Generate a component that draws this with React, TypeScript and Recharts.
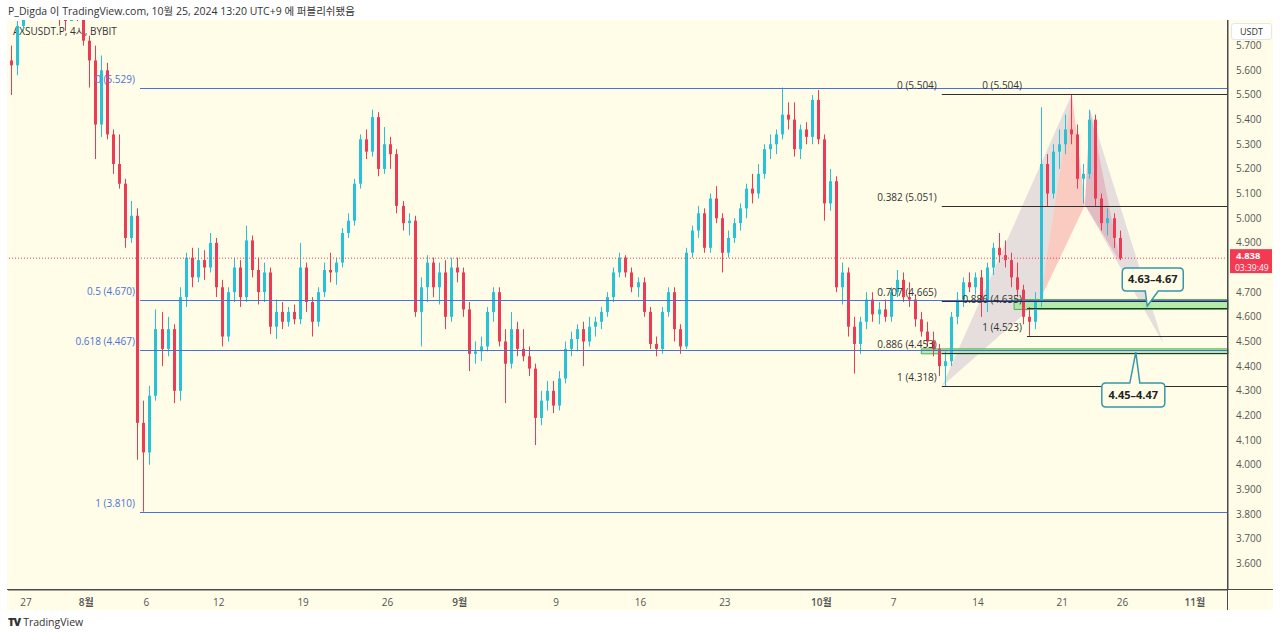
import { Bar, ComposedChart, ReferenceArea, ReferenceDot, ReferenceLine, XAxis, YAxis } from "recharts";

const UP = "#26c2d8";
const DOWN = "#ee3b55";
const FIB_BLUE = "#4a72d6";
const FIB_DARK = "#2e2e2e";
const BG = "#fffde8";
const AXIS = "#4a4a4a";
const FONT = "'Open Sans', 'Noto Sans CJK KR', sans-serif";

// time is in days from Jul 27 00:00 (UTC+9), one candle every 12h
const FIRST_CANDLE_T = -1.25;
const CANDLE_STEP = 0.5;
const T_MIN = -1.49;
const T_MAX = 99.75;
const P_MIN = 3.492;
const P_MAX = 5.804;

// [open, high, low, close]
const julyCandles = [
  [5.64, 5.70, 5.50, 5.62], [5.62, 5.80, 5.58, 5.78], [5.78, 5.95, 5.76, 5.90], [5.90, 6.02, 5.85, 5.96],
  [5.96, 6.05, 5.90, 5.94], [5.94, 6.00, 5.86, 5.90], [5.90, 5.98, 5.84, 5.88], [5.88, 5.95, 5.83, 5.86],
  [5.86, 5.92, 5.78, 5.84], [5.84, 5.90, 5.76, 5.80], [5.80, 5.92, 5.81, 5.88], [5.88, 5.95, 5.80, 5.86],
  [5.86, 5.90, 5.70, 5.72],
];

const augCandles = [
  [5.72, 5.74, 5.53, 5.64], [5.64, 5.70, 5.24, 5.38], [5.38, 5.66, 5.33, 5.60], [5.60, 5.63, 5.32, 5.34],
  [5.34, 5.36, 5.18, 5.22], [5.22, 5.34, 5.12, 5.14], [5.14, 5.16, 4.88, 4.92], [4.92, 5.07, 4.90, 5.01],
  [5.01, 5.04, 4.02, 4.17], [4.17, 4.26, 3.81, 4.05], [4.05, 4.32, 4.00, 4.28], [4.28, 4.63, 4.26, 4.55],
  [4.55, 4.62, 4.40, 4.47], [4.47, 4.60, 4.44, 4.55], [4.55, 4.57, 4.25, 4.30], [4.30, 4.72, 4.26, 4.68],
  [4.68, 4.86, 4.64, 4.84], [4.84, 4.88, 4.72, 4.76], [4.76, 4.88, 4.74, 4.83], [4.83, 4.87, 4.75, 4.80],
  [4.80, 4.94, 4.78, 4.90], [4.90, 4.92, 4.68, 4.72], [4.72, 4.75, 4.48, 4.52], [4.52, 4.72, 4.50, 4.70],
  [4.70, 4.84, 4.66, 4.80], [4.80, 4.83, 4.64, 4.68], [4.68, 4.97, 4.66, 4.91], [4.91, 4.93, 4.76, 4.79],
  [4.79, 4.84, 4.65, 4.70], [4.70, 4.82, 4.66, 4.78], [4.78, 4.80, 4.53, 4.56], [4.56, 4.67, 4.51, 4.62],
  [4.62, 4.66, 4.55, 4.58], [4.58, 4.64, 4.56, 4.62], [4.62, 4.65, 4.57, 4.59], [4.59, 4.90, 4.57, 4.80],
  [4.80, 4.82, 4.62, 4.66], [4.66, 4.68, 4.52, 4.58], [4.58, 4.72, 4.56, 4.70], [4.70, 4.82, 4.68, 4.79],
  [4.79, 4.86, 4.74, 4.78], [4.78, 4.84, 4.73, 4.82], [4.82, 4.96, 4.80, 4.94], [4.94, 5.02, 4.92, 4.99],
  [4.99, 5.16, 4.97, 5.14], [5.14, 5.34, 5.12, 5.32], [5.32, 5.36, 5.24, 5.27], [5.27, 5.44, 5.25, 5.41],
  [5.41, 5.43, 5.17, 5.20], [5.20, 5.37, 5.18, 5.30], [5.30, 5.33, 5.20, 5.26], [5.26, 5.28, 5.02, 5.05],
  [5.05, 5.07, 4.95, 4.98], [4.98, 5.02, 4.93, 4.99], [4.99, 5.01, 4.60, 4.62], [4.62, 4.76, 4.48, 4.72],
  [4.72, 4.85, 4.66, 4.82], [4.82, 4.84, 4.68, 4.72], [4.72, 4.82, 4.65, 4.78], [4.78, 4.83, 4.55, 4.60],
  [4.60, 4.84, 4.58, 4.80], [4.80, 4.84, 4.74, 4.78],
];

const sepCandles = [
  [4.78, 4.80, 4.60, 4.63], [4.63, 4.66, 4.38, 4.45], [4.45, 4.50, 4.41, 4.46], [4.46, 4.52, 4.42, 4.48],
  [4.48, 4.64, 4.46, 4.62], [4.62, 4.72, 4.58, 4.70], [4.70, 4.72, 4.48, 4.50], [4.50, 4.55, 4.25, 4.41],
  [4.41, 4.62, 4.39, 4.55], [4.55, 4.58, 4.44, 4.47], [4.47, 4.55, 4.42, 4.44], [4.44, 4.48, 4.36, 4.39],
  [4.39, 4.41, 4.08, 4.19], [4.19, 4.30, 4.16, 4.26], [4.26, 4.34, 4.22, 4.30], [4.30, 4.34, 4.21, 4.24],
  [4.24, 4.38, 4.22, 4.35], [4.35, 4.50, 4.33, 4.47], [4.47, 4.54, 4.44, 4.51], [4.51, 4.57, 4.46, 4.55],
  [4.55, 4.58, 4.40, 4.50], [4.50, 4.60, 4.48, 4.56], [4.56, 4.60, 4.52, 4.58], [4.58, 4.64, 4.55, 4.62],
  [4.62, 4.70, 4.60, 4.68], [4.68, 4.80, 4.66, 4.78], [4.78, 4.86, 4.76, 4.84], [4.84, 4.85, 4.76, 4.78],
  [4.78, 4.80, 4.70, 4.72], [4.72, 4.76, 4.68, 4.74], [4.74, 4.76, 4.60, 4.62], [4.62, 4.64, 4.47, 4.49],
  [4.49, 4.52, 4.44, 4.47], [4.47, 4.64, 4.45, 4.62], [4.62, 4.72, 4.60, 4.70], [4.70, 4.72, 4.50, 4.55],
  [4.55, 4.57, 4.45, 4.48], [4.48, 4.88, 4.47, 4.86], [4.86, 4.97, 4.84, 4.95], [4.95, 5.05, 4.92, 5.02],
  [5.02, 5.04, 4.86, 4.88], [4.88, 5.10, 4.86, 5.08], [5.08, 5.13, 4.98, 5.00], [5.00, 5.02, 4.78, 4.86],
  [4.86, 4.95, 4.84, 4.92], [4.92, 5.00, 4.90, 4.98], [4.98, 5.06, 4.95, 5.04], [5.04, 5.14, 5.00, 5.12],
  [5.12, 5.18, 5.06, 5.10], [5.10, 5.22, 5.08, 5.18], [5.18, 5.30, 5.16, 5.28], [5.28, 5.34, 5.24, 5.30],
  [5.30, 5.36, 5.26, 5.34], [5.34, 5.53, 5.32, 5.42], [5.42, 5.47, 5.36, 5.40], [5.40, 5.47, 5.25, 5.28],
  [5.28, 5.38, 5.24, 5.36], [5.36, 5.39, 5.30, 5.33], [5.33, 5.50, 5.30, 5.48], [5.48, 5.52, 5.30, 5.32],
];

const octCandles = [
  [5.32, 5.34, 4.99, 5.06], [5.06, 5.20, 5.03, 5.15], [5.15, 5.17, 4.70, 4.72], [4.72, 4.82, 4.65, 4.78],
  [4.78, 4.80, 4.52, 4.56], [4.56, 4.60, 4.37, 4.49], [4.49, 4.60, 4.45, 4.58], [4.58, 4.70, 4.55, 4.67],
  [4.67, 4.70, 4.58, 4.61], [4.61, 4.66, 4.57, 4.63], [4.63, 4.67, 4.58, 4.60], [4.60, 4.72, 4.58, 4.70],
  [4.70, 4.79, 4.68, 4.75], [4.75, 4.78, 4.66, 4.68], [4.68, 4.74, 4.64, 4.67], [4.67, 4.69, 4.56, 4.59],
  [4.59, 4.62, 4.52, 4.54], [4.54, 4.58, 4.48, 4.50], [4.50, 4.54, 4.44, 4.47], [4.47, 4.49, 4.36, 4.40],
  [4.40, 4.46, 4.318, 4.42], [4.42, 4.62, 4.40, 4.60], [4.60, 4.70, 4.57, 4.67], [4.67, 4.76, 4.64, 4.74],
  [4.74, 4.78, 4.70, 4.72], [4.72, 4.78, 4.69, 4.76], [4.76, 4.79, 4.60, 4.66], [4.66, 4.82, 4.62, 4.80],
  [4.80, 4.90, 4.77, 4.88], [4.88, 4.94, 4.82, 4.85], [4.85, 4.91, 4.80, 4.83], [4.83, 4.86, 4.72, 4.76],
  [4.76, 4.82, 4.68, 4.71], [4.71, 4.73, 4.57, 4.60], [4.60, 4.64, 4.523, 4.58], [4.58, 4.70, 4.55, 4.66],
  [4.66, 5.45, 4.64, 5.22], [5.22, 5.26, 5.05, 5.10], [5.10, 5.30, 5.08, 5.27], [5.27, 5.36, 5.20, 5.30],
  [5.30, 5.42, 5.26, 5.36], [5.36, 5.504, 5.30, 5.34], [5.34, 5.38, 5.12, 5.16], [5.16, 5.22, 5.06, 5.18],
  [5.18, 5.44, 5.16, 5.40], [5.40, 5.42, 5.05, 5.08], [5.08, 5.10, 4.95, 4.98], [4.98, 5.04, 4.93, 5.00],
  [5.00, 5.02, 4.88, 4.92], [4.92, 4.95, 4.83, 4.838],
];

const LAST_PRICE = 4.838;

const timeTicks = [0, 5, 10, 16, 23, 30, 36, 44, 51, 58, 66, 72, 79, 86, 91, 97];
const timeLabels = ["27", "8월", "6", "12", "19", "26", "9월", "9", "16", "23", "10월", "7", "14", "21", "26", "11월"];
// 4.800 sits under the last-price tag, so the scale does not print it
const priceTicks = [3.6, 3.7, 3.8, 3.9, 4.0, 4.1, 4.2, 4.3, 4.4, 4.5, 4.6, 4.7, 4.9, 5.0, 5.1, 5.2, 5.3, 5.4, 5.5, 5.6, 5.7];

// fib retracement drawn from the Aug 5 crash
const swingFibStart = 9.46;
const swingFib = [
  { level: "0", price: 5.529 },
  { level: "0.5", price: 4.670 },
  { level: "0.618", price: 4.467 },
  { level: "1", price: 3.810 },
];

// fib of the X->A leg (from Oct 10 low) and of the later leg (from Oct 17 low)
const xaFibStart = 76.0;
const xaFib = [
  { level: "0", price: 5.504 },
  { level: "0.382", price: 5.051 },
  { level: "0.707", price: 4.665 },
  { level: "0.886", price: 4.453 },
  { level: "1", price: 4.318 },
];
const legFibStart = 83.07;
const legFib = [
  { level: "0", price: 5.504 },
  { level: "0.886", price: 4.635 },
  { level: "1", price: 4.523 },
];

const zones = [
  { from: 82.0, lo: 4.63, hi: 4.67, label: "4.63–4.67", tipT: 93.05, tipP: 4.644, above: true },
  { from: 74.3, lo: 4.45, hi: 4.47, label: "4.45–4.47", tipT: 92.1, tipP: 4.457, above: false },
];

// harmonic pattern legs
const xabTriangle = [{ t: 76.02, p: 4.318 }, { t: 86.8, p: 5.504 }, { t: 84.15, p: 4.668 }];
const abcTriangle = [{ t: 84.15, p: 4.668 }, { t: 86.8, p: 5.504 }, { t: 87.88, p: 5.054 }];
const cdTriangle = [{ t: 87.88, p: 5.054 }, { t: 88.3, p: 5.44 }, { t: 90.8, p: 4.823 }];
const bcdTriangle = [{ t: 87.88, p: 5.054 }, { t: 88.3, p: 5.44 }, { t: 94.36, p: 4.494 }];

const candles = [...julyCandles, ...augCandles, ...sepCandles, ...octCandles].map(([o, h, l, c], i) => ({
  t: FIRST_CANDLE_T + i * CANDLE_STEP,
  o, h, l, c,
  range: [l, h],
}));

function Candle(props: any) {
  const { x, y, width, height, payload } = props;
  if (!payload || x == null) return null;
  const { o, h, l, c } = payload;
  const color = c >= o ? UP : DOWN;
  const top = Math.min(y, y + height);
  const hgt = Math.abs(height);
  const cx = Math.round(x + width / 2) + 0.5;
  const span = h - l || 1;
  const py = (v: number) => top + ((h - v) / span) * hgt;
  const bTop = py(Math.max(o, c));
  const bBot = py(Math.min(o, c));
  return (
    <g>
      <line x1={cx} x2={cx} y1={top} y2={top + hgt} stroke={color} strokeWidth={1} />
      <rect x={cx - 1.5} y={bTop} width={3} height={Math.max(1, bBot - bTop)} fill={color} />
    </g>
  );
}

function TimeTick(props: any) {
  const { x, y, payload } = props;
  const label = timeLabels[timeTicks.indexOf(payload.value)] ?? "";
  const isMonth = label.includes("월");
  return (
    <text x={x} y={y + 8} textAnchor="middle" fontSize={10} fill="#555" fontFamily={FONT} fontWeight={isMonth ? 600 : 400}>
      {label}
    </text>
  );
}

function triangle(pts: { t: number; p: number }[], fill: string, key: string) {
  const ts = pts.map(q => q.t);
  const ps = pts.map(q => q.p);
  const x1 = Math.min(...ts), x2 = Math.max(...ts);
  const y1 = Math.min(...ps), y2 = Math.max(...ps);
  return (
    <ReferenceArea
      key={key}
      x1={x1} x2={x2} y1={y1} y2={y2}
      shape={(r: any) => {
        const px = (t: number) => r.x + ((t - x1) / (x2 - x1)) * r.width;
        const py = (p: number) => r.y + ((y2 - p) / (y2 - y1)) * r.height;
        return <polygon points={pts.map(q => `${px(q.t)},${py(q.p)}`).join(" ")} fill={fill} stroke="none" />;
      }}
    />
  );
}

// crisp 1px horizontal line
function FlatLine(p: any, color: string) {
  const yy = Math.round(p.y1) + 0.5;
  return <line x1={p.x1} x2={p.x2} y1={yy} y2={yy} stroke={color} strokeWidth={1} />;
}

function fibLines(start: number, levels: { level: string; price: number }[], color: string, key: string) {
  return levels.map(f => (
    <ReferenceLine
      key={`${key}-l-${f.level}`}
      segment={[{ x: start, y: f.price }, { x: T_MAX, y: f.price }]}
      stroke={color}
      shape={(p: any) => FlatLine(p, color)}
    />
  ));
}

function fibLabels(start: number, levels: { level: string; price: number }[], color: string, key: string) {
  return levels.map(f => (
    <ReferenceDot
      key={`${key}-t-${f.level}`}
      x={start}
      y={f.price}
      shape={(p: any) => (
        <text x={p.cx - 5} y={p.cy - 5} textAnchor="end" fontSize={10} fill={color} fontFamily={FONT}>
          {`${f.level} (${f.price.toFixed(3)})`}
        </text>
      )}
    />
  ));
}

function callout(z: (typeof zones)[number]) {
  return (
    <ReferenceDot
      key={`call-${z.label}`}
      x={z.tipT}
      y={z.tipP}
      shape={(p: any) => {
        const { cx, cy } = p;
        const r = 4;
        let d: string;
        let x0: number, x1: number, y0: number, y1: number;
        if (z.above) {
          x0 = cx - 25; x1 = cx + 36; y0 = cy - 38; y1 = cy - 15;
          d = `M${x0 + r},${y0} H${x1 - r} Q${x1},${y0} ${x1},${y0 + r} V${y1 - r} Q${x1},${y1} ${x1 - r},${y1}` +
            ` H${cx + 11} L${cx},${cy} L${cx - 2},${y1} H${x0 + r} Q${x0},${y1} ${x0},${y1 - r} V${y0 + r} Q${x0},${y0} ${x0 + r},${y0} Z`;
        } else {
          x0 = cx - 34; x1 = cx + 29; y0 = cy + 31; y1 = cy + 55;
          d = `M${x0 + r},${y0} H${cx - 6} L${cx},${cy} L${cx + 4},${y0} H${x1 - r} Q${x1},${y0} ${x1},${y0 + r} V${y1 - r}` +
            ` Q${x1},${y1} ${x1 - r},${y1} H${x0 + r} Q${x0},${y1} ${x0},${y1 - r} V${y0 + r} Q${x0},${y0} ${x0 + r},${y0} Z`;
        }
        return (
          <g>
            <path d={d} fill={BG} stroke="#3797a8" strokeWidth={1.5} />
            <text x={(x0 + x1) / 2} y={(y0 + y1) / 2 + 4} textAnchor="middle" fontSize={11} fontWeight={700} fill="#222" fontFamily={FONT}>
              {z.label}
            </text>
          </g>
        );
      }}
    />
  );
}

function LastPriceTag(p: any) {
  const { cx, cy } = p;
  return (
    <g>
      <rect x={cx + 2} y={cy - 9} width={42} height={24} fill="#f23a52" />
      <text x={cx + 8} y={cy + 0.5} fontSize={9.5} fontWeight={700} fill="#fff" fontFamily={FONT}>{LAST_PRICE.toFixed(3)}</text>
      <text x={cx + 7} y={cy + 12.5} fontSize={8.5} fill="#fff" fontFamily={FONT}>03:39:49</text>
    </g>
  );
}

export default function App() {
  return (
    <div style={{ position: "absolute", left: 0, top: 0, width: 1280, height: 634, background: "#fff", fontFamily: FONT, overflow: "hidden" }}>
      <div style={{ position: "absolute", left: 8, top: 3, fontSize: 10.5, color: "#333" }}>
        P_Digda 이 TradingView.com, 10월 25, 2024 13:20 UTC+9 에 퍼블리쉬됐음
      </div>
      <div style={{ position: "absolute", left: 7, top: 20, width: 1266, height: 590, background: BG }} />
      <div style={{ position: "absolute", left: 13, top: 23, fontSize: 10, color: "#333" }}>AXSUSDT.P, 4시, BYBIT</div>
      <div style={{ position: "absolute", left: 7, top: 20 }}>
        <ComposedChart width={1266} height={590} data={candles} margin={{ top: 0, right: 0, bottom: 0, left: 1 }}>
          <XAxis
            type="number"
            dataKey="t"
            domain={[T_MIN, T_MAX]}
            allowDataOverflow
            ticks={timeTicks}
            interval={0}
            height={20}
            axisLine={{ stroke: AXIS }}
            tickLine={false}
            tick={<TimeTick />}
          />
          <YAxis
            orientation="right"
            type="number"
            domain={[P_MIN, P_MAX]}
            allowDataOverflow
            ticks={priceTicks}
            interval={0}
            width={45}
            axisLine={{ stroke: AXIS }}
            tickLine={false}
            tickMargin={2}
            tickFormatter={(v: number) => v.toFixed(3)}
            tick={{ fontSize: 10, fill: "#555", fontFamily: FONT }}
          />
          {fibLines(swingFibStart, swingFib, FIB_BLUE, "swing")}
          {fibLines(xaFibStart, xaFib, FIB_DARK, "xa")}
          {fibLines(legFibStart, legFib, FIB_DARK, "leg")}
          {fibLabels(swingFibStart, swingFib, FIB_BLUE, "swing")}
          {fibLabels(xaFibStart, xaFib, "#333", "xa")}
          {fibLabels(legFibStart, legFib, "#333", "leg")}
          <Bar dataKey="range" barSize={4} shape={(p: any) => <Candle {...p} />} isAnimationActive={false} />
          {triangle(xabTriangle, "rgba(176,160,196,0.32)", "xab")}
          {triangle(abcTriangle, "rgba(238,120,130,0.38)", "abc")}
          {triangle(cdTriangle, "rgba(238,120,130,0.38)", "cd")}
          {triangle(bcdTriangle, "rgba(176,160,196,0.32)", "bcd")}
          {zones.map(z => (
            <ReferenceArea key={`zone-${z.label}`} x1={z.from} x2={T_MAX} y1={z.lo} y2={z.hi} fill="#a8e6a0" fillOpacity={0.85} stroke="#4caf50" strokeWidth={1} />
          ))}
          {zones.map(z => callout(z))}
          <ReferenceLine y={LAST_PRICE} stroke={DOWN} strokeDasharray="1 2" strokeWidth={1} />
          <ReferenceDot x={T_MAX} y={LAST_PRICE} shape={(p: any) => <LastPriceTag {...p} />} />
        </ComposedChart>
      </div>
      <div style={{ position: "absolute", left: 7, top: 589, width: 1266, height: 1, background: AXIS }} />
      <div style={{ position: "absolute", left: 1227, top: 20, width: 1, height: 590, background: AXIS }} />
      <div style={{ position: "absolute", left: 1231, top: 23, width: 39, height: 15, background: "#fff", border: "1px solid #e6e6e6", borderRadius: 3, fontSize: 9, color: "#333", textAlign: "center", lineHeight: "15px" }}>
        USDT
      </div>
      <div style={{ position: "absolute", left: 8, top: 614, fontSize: 10.5, color: "#333", display: "flex", alignItems: "center", gap: 3 }}>
        <span style={{ fontWeight: 900, fontSize: 11, letterSpacing: -1 }}>TV</span>
        <span>TradingView</span>
      </div>
    </div>
  );
}
